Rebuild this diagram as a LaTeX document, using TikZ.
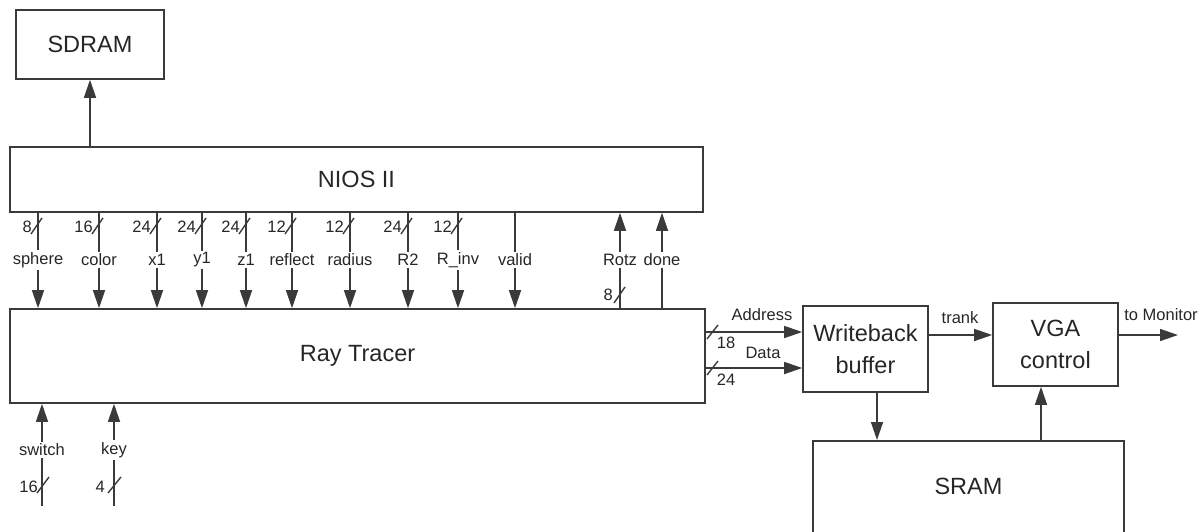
\documentclass[tikz,border=0pt]{standalone}
\usepackage{fontspec}
\setmainfont{Liberation Sans}
\usetikzlibrary{arrows.meta}
\definecolor{lc}{HTML}{3A3A3A}
\definecolor{tc}{HTML}{262626}
\begin{document}
\begin{tikzpicture}[x=1pt,y=-1pt]
\tikzset{
 box/.style={draw=lc, line width=1.6pt, rectangle, inner sep=0pt, font=\fontsize{23.5}{32}\selectfont, text=tc, align=center},
 wire/.style={draw=lc, line width=1.4pt},
 arr/.style={wire, -{Triangle[length=18pt,width=12pt]}},
 lab/.style={font=\fontsize{16.5}{18}\selectfont, text=tc, inner sep=1pt},
 wlab/.style={lab, fill=white, inner sep=2pt},
 busnum/.style={lab, anchor=east},
}
\clip (0,0) rectangle (1200,531);
% blocks
\node[box, minimum width=148pt, minimum height=69pt] (sdram) at (90,44.5) {SDRAM};
\node[box, minimum width=693pt, minimum height=65pt] (nios) at (356.5,179.5) {NIOS II};
\node[box, minimum width=695pt, minimum height=94pt] (rt) at (357.5,356) {Ray Tracer};
\node[box, minimum width=125pt, minimum height=86pt] (wb) at (865.5,349) {Writeback\\buffer};
\node[box, minimum width=125pt, minimum height=83pt] (vga) at (1055.5,344.5) {VGA\\control};
\node[box, anchor=north, minimum width=311pt, minimum height=160pt, text height=17pt, text depth=70pt] (sram) at (968.5,440) {SRAM};
% NIOS -> SDRAM
\draw[arr] (90,0 |- nios.north) -- (90,0 |- sdram.south);
% buses NIOS -> Ray Tracer
\foreach \x/\lab/\n in {38/sphere/8, 99/color/16, 157/x1/24, 202/y1/24, 246/z1/24, 292/reflect/12, 350/radius/12, 408/R2/24, 458/R\_inv/12}
{
  \draw[arr] (\x,0 |- nios.south) -- (\x,0 |- rt.north);
  \node[wlab] (l\x) at (\x,260) {\lab};
  \draw[wire] (\x-7,234) -- (\x+4,218);
  \node[busnum] (n\x) at (\x-5,227) {\n};
}
\draw[arr] (515,0 |- nios.south) -- (515,0 |- rt.north);
\node[wlab] (lvalid) at (515,260) {valid};
% Ray Tracer -> NIOS
\draw[arr] (620,0 |- rt.north) -- (620,0 |- nios.south);
\node[wlab] (lrotz) at (620,260) {Rotz};
\draw[wire] (614,303) -- (625,287);
\node[busnum] (nrotz) at (614,295) {8};
\draw[arr] (662,0 |- rt.north) -- (662,0 |- nios.south);
\node[wlab] (ldone) at (662,260) {done};
% inputs at bottom
\coordinate (sw) at (42,506);
\draw[arr] (sw) -- (sw |- rt.south);
\node[wlab] (lsw) at (42,450) {switch};
\draw[wire] (37,493) -- (49,477);
\node[busnum] (nsw) at (39,487) {16};
\coordinate (ky) at (114,506);
\draw[arr] (ky) -- (ky |- rt.south);
\node[wlab] (lky) at (114,450) {key};
\draw[wire] (108,493) -- (121,477);
\node[busnum] (nky) at (106,487) {4};
% Ray Tracer -> Writeback
\draw[arr] (rt.east |- 0,332) -- (wb.west |- 0,332);
\draw[wire] (707,339) -- (718,325);
\node[lab] (n18) at (726,343) {18};
\node[lab] (laddr) at (762,315) {Address};
\draw[arr] (rt.east |- 0,368) -- (wb.west |- 0,368);
\draw[wire] (707,375) -- (718,361);
\node[lab] (n24d) at (726,380) {24};
\node[lab] (ldata) at (763,353) {Data};
% Writeback -> VGA
\draw[arr] (wb.east |- 0,335) -- (vga.west |- 0,335);
\node[lab] (ltrank) at (960,318) {trank};
% VGA -> Monitor
\coordinate (mon) at (1178,335);
\draw[arr] (vga.east |- mon) -- (mon);
\node[lab] (lmon) at (1161,315) {to Monitor};
% SRAM links
\draw[arr] (877,0 |- wb.south) -- (877,0 |- sram.north);
\draw[arr] (1041,0 |- sram.north) -- (1041,0 |- vga.south);
\end{tikzpicture}
\end{document}
